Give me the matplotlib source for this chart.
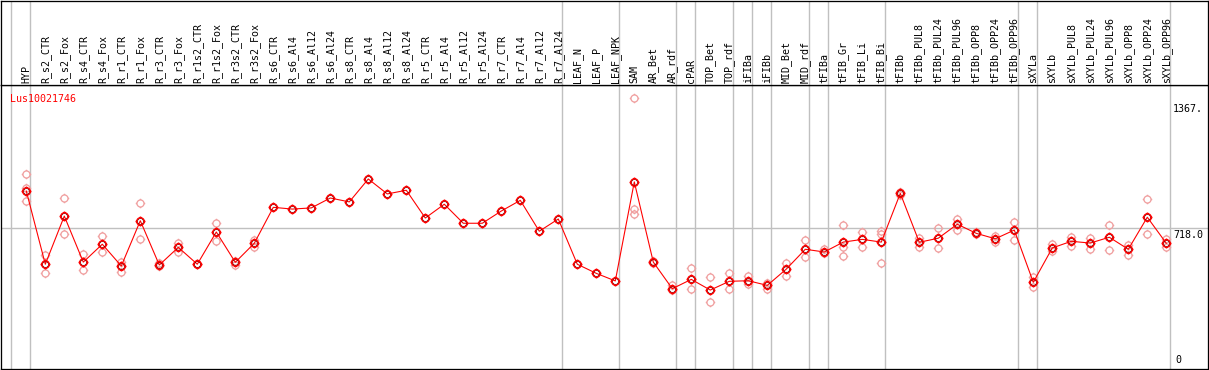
import matplotlib
matplotlib.use("Agg")
import matplotlib.pyplot as plt
import matplotlib.path as mpath
import numpy as np

# ---------------- data ----------------
gene_id = "Lus10021746"
samples = ["HYP",
           "R_s2_CTR", "R_s2_Fox", "R_s4_CTR", "R_s4_Fox", "R_r1_CTR", "R_r1_Fox",
           "R_r3_CTR", "R_r3_Fox", "R_r1s2_CTR", "R_r1s2_Fox", "R_r3s2_CTR", "R_r3s2_Fox",
           "R_s6_CTR", "R_s6_Al4", "R_s6_Al12", "R_s6_Al24", "R_s8_CTR", "R_s8_Al4",
           "R_s8_Al12", "R_s8_Al24", "R_r5_CTR", "R_r5_Al4", "R_r5_Al12", "R_r5_Al24",
           "R_r7_CTR", "R_r7_Al4", "R_r7_Al12", "R_r7_Al24",
           "LEAF_N", "LEAF_P", "LEAF_NPK",
           "SAM", "AR_Bet", "AR_rdf",
           "cPAR",
           "TOP_Bet", "TOP_rdf",
           "iFIBa",
           "iFIBb",
           "MID_Bet", "MID_rdf",
           "tFIBa",
           "tFIB_Gr", "tFIB_Li", "tFIB_Bi",
           "tFIBb", "tFIBb_PUL8", "tFIBb_PUL24", "tFIBb_PUL96", "tFIBb_OPP8",
           "tFIBb_OPP24", "tFIBb_OPP96",
           "sXYLa",
           "sXYLb", "sXYLb_PUL8", "sXYLb_PUL24", "sXYLb_PUL96", "sXYLb_OPP8",
           "sXYLb_OPP24", "sXYLb_OPP96"]

means = [910, 533, 781, 544, 636, 524, 757, 529, 620, 533, 699, 543, 641,
         826, 817, 823, 874, 854, 972, 895, 914, 771, 842, 744, 744, 807, 862, 703, 766,
         533, 486, 447,
         957, 544, 407,
         455,
         400, 445,
         448,
         424,
         508, 610,
         596,
         647, 661, 647,
         898, 646, 667, 739, 692, 664, 709,
         440,
         617, 651, 642, 672, 610, 775, 641]

replicates = [[998, 924, 859], [579, 486], [873, 687], [586, 503], [678, 594],
              [544, 495], [847, 661], [539, 524], [644, 598], [533, 533],
              [745, 651], [551, 529], [658, 620],
              [], [], [], [], [], [], [], [], [], [], [], [], [], [], [], [],
              [], [], [],
              [1388, 816, 792], [550, 538], [426, 400],
              [514, 404],
              [467, 337], [486, 404],
              [474, 430],
              [435, 407],
              [539, 471], [658, 569],
              [611, 592],
              [734, 623, 575], [699, 623], [706, 689, 538],
              [903, 890], [670, 623], [720, 615], [766, 708], [701, 689],
              [680, 649], [751, 659],
              [469, 414],
              [636, 601], [675, 625], [670, 613], [734, 605], [634, 582],
              [867, 687], [661, 623]]

# sample groups (number of samples in each block between separators)
group_sizes = [1, 28, 3, 3, 1, 2, 1, 1, 2, 1, 3, 7, 1, 7]

ref_value = 718.0
axis_ticks = [0, 718.0, 1367.0]
axis_tick_labels = ["0", "718.0", "1367."]

# ---------------- style ----------------
W, H = 1209, 370
PX = 72.0 / 100.0  # points per pixel
grey = "#c0c0c0"
pink = "#f0a0a0"
red = "#ff0000"
mono = "DejaVu Sans Mono"
fs = 7.2

fig = plt.figure(figsize=(W / 100, H / 100), dpi=100)

left_px, right_px = 1, 1208
header_top_px, header_bot_px, plot_bot_px = 0.5, 85, 368.5

def fx(px):
    return px / W

def fy(py):
    return 1 - py / H

ax = fig.add_axes([fx(left_px), fy(plot_bot_px), fx(right_px - left_px),
                   fy(header_bot_px) - fy(plot_bot_px)])
hax = fig.add_axes([fx(left_px), fy(header_bot_px), fx(right_px - left_px),
                    fy(header_top_px) - fy(header_bot_px)], sharex=ax)

n = len(samples)
x = np.arange(n)
col_w = 19.0
x0_px = 26.3
ax.set_xlim((left_px - x0_px) / col_w, (right_px - x0_px) / col_w)
ax.set_ylim(-4, 1456)
hax.set_ylim(0, 1)

for a in (ax, hax):
    a.set_xticks([])
    a.set_yticks([])
    for s in a.spines.values():
        s.set_color("black")
        s.set_linewidth(1.3 * PX)

# separators
bounds = np.concatenate([[0], np.cumsum(group_sizes)]) - 1 + 4 / col_w
for b in bounds:
    ax.axvline(b, color=grey, lw=1.4 * PX, zorder=0)
    hax.axvline(b, color=grey, lw=1.4 * PX, zorder=0)

# reference line
ax.axhline(ref_value, color=grey, lw=1.4 * PX, zorder=0)

# custom marker: circle with small ticks
circ = mpath.Path.unit_circle()
verts = list(circ.vertices)
codes = list(circ.codes)
for ang in (0, 90, 180, 270):
    c, s = np.cos(np.radians(ang)), np.sin(np.radians(ang))
    verts += [(c * 1.0, s * 1.0), (c * 1.35, s * 1.35)]
    codes += [mpath.Path.MOVETO, mpath.Path.LINETO]
sun = mpath.Path(verts, codes)

# replicates
for i, reps in enumerate(replicates):
    if reps:
        ax.plot([x[i]] * len(reps), reps, linestyle="none", marker=sun,
                markersize=9.5 * PX, markerfacecolor="none",
                markeredgecolor=pink, markeredgewidth=1.3 * PX, zorder=2)

# mean line and markers
ax.plot(x, means, color=red, lw=1.1 * PX, zorder=3)
ax.plot(x, means, linestyle="none", marker="o", markersize=6.0 * PX,
        markerfacecolor="none", markeredgecolor="black",
        markeredgewidth=0.7 * PX, zorder=4)
ax.plot(x, means, linestyle="none", marker=sun, markersize=10 * PX,
        markerfacecolor="none", markeredgecolor=red,
        markeredgewidth=1.5 * PX, zorder=5)

# header labels
for i, lab in enumerate(samples):
    hax.text(x[i], 2.0 / 85, lab, rotation=90, ha="center", va="bottom",
             fontsize=fs, family=mono, color="black")

# gene id
ax.text(0.0075, 0.968, gene_id, transform=ax.transAxes, ha="left", va="top",
        fontsize=fs, family=mono, color=red)

# right-side value labels
lab_x = (1173 - x0_px) / col_w
for v, t in zip(axis_ticks, axis_tick_labels):
    if v == 0:
        ax.text(lab_x + 0.12, v + 12, t, ha="left", va="bottom", fontsize=fs,
                family=mono, color="black")
    else:
        ax.text(lab_x, v - 8, t, ha="left", va="top", fontsize=fs,
                family=mono, color="black")

fig.savefig("out.png", dpi=100)
